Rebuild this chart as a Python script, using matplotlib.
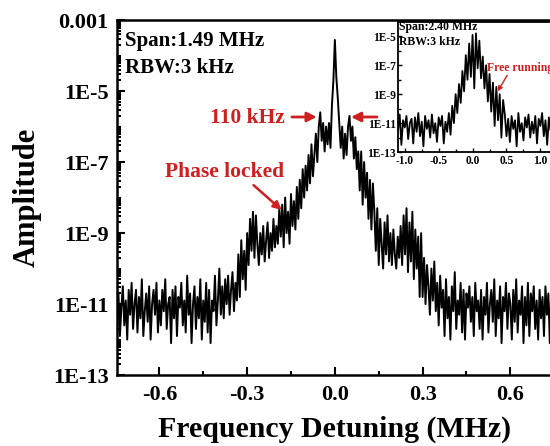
import numpy as np
import matplotlib.pyplot as plt
from matplotlib.ticker import FixedLocator, FuncFormatter, NullFormatter

plt.rcParams['font.family'] = ['Liberation Serif', 'DejaVu Serif']
plt.rcParams['font.weight'] = 'bold'

RED = '#cf1f1f'

# phase locked trace, log10 amplitude, 5 kHz steps from -0.745 to 0.745 MHz
span_start, span_stop = -0.745, 0.745
floor_left = [
    -11.5, -10.7, -11.9, -11.1, -10.5, -11.6, -10.9, -12.0, -10.6, -11.3,
    -10.4, -11.7, -11.0, -10.6, -11.8, -10.8, -11.4, -10.3, -11.9, -11.2,
    -10.7, -11.5, -10.5, -12.0, -11.0, -10.6, -11.3, -10.4, -11.8, -10.9,
    -11.6, -10.6, -11.2, -10.3, -11.7, -11.0, -10.8, -12.1, -10.6, -11.4,
    -10.5, -11.9, -10.8, -11.1, -10.4, -11.6, -10.9, -11.8, -10.2, -11.3,
    -10.7, -12.1, -11.0, -10.5, -11.7, -10.8, -11.4, -10.3, -12.0, -10.9,
    -11.5, -10.4, -11.8, -10.6, -12.1, -10.9, -11.2, -10.2, -11.6,
]
rise_left = [
    -10.9, -10.0, -11.3, -10.5, -11.4, -10.3, -11.0, -10.2, -11.3, -10.6,
    -10.1, -11.2, -10.4, -10.9,
    -9.6, -10.8, -9.2, -10.3, -9.5, -10.6,
    -9.0, -9.9, -8.6, -9.5, -8.4, -9.7, -8.5, -9.3,
    -9.9, -9.0, -9.6, -8.8, -9.8, -9.2, -8.7, -9.7, -9.0, -9.5,
    -8.6, -9.4, -8.8, -9.3, -8.3, -9.1,
    -8.2, -9.4, -8.0, -9.0, -8.4, -9.3, -7.9, -8.8, -8.1, -8.9, -7.7, -8.6,
    -7.5, -8.3, -7.2, -8.0, -7.1, -7.8, -6.8, -7.6, -6.5, -7.4,
]
peak = [
    -6.8, -6.2, -7.0, -6.0, -5.6, -6.4, -5.9, -6.7, -6.0, -6.5,
    -5.9, -6.6, -5.4, -4.7, -3.56, -4.6, -5.2, -5.9, -6.6, -6.0,
    -6.9, -6.2, -6.8, -6.0, -5.7, -6.4, -6.0, -6.9, -6.3, -7.2, -6.7,
]
fall_right = [
    -7.8, -6.7, -8.2, -7.0, -8.0, -7.3, -8.6, -7.5, -8.9, -7.6, -8.4,
    -9.5, -8.3, -9.9, -8.6, -9.3, -10.0, -8.7, -9.6, -8.5, -9.8,
    -9.0, -9.9, -8.9, -9.6, -10.0, -9.1, -9.7, -8.8,
    -9.9, -8.5, -9.6, -8.3, -10.1, -8.7, -9.8, -8.4, -10.3, -8.9, -10.0, -9.1, -10.8, -9.0,
    -10.8, -9.7, -11.0, -9.9, -10.5, -11.3, -10.0, -10.9, -9.8, -11.2,
    -10.4, -11.6, -10.2, -11.1, -10.6, -11.9, -10.3, -11.4, -10.8, -12.0, -10.5,
    -11.2, -10.1, -11.7, -10.9, -11.3, -10.4, -11.8, -10.6, -12.0, -10.7, -11.1,
]
floor_right = [
    -10.5, -11.5, -10.8, -11.9, -10.4, -11.2, -10.9, -11.7, -10.6, -12.0,
    -10.8, -11.3, -10.4, -11.8, -11.0, -10.6, -11.5, -10.3, -11.9, -10.9,
    -11.4, -10.5, -12.1, -10.8, -11.2, -10.4, -11.7, -10.7, -11.0, -12.0,
    -10.6, -11.5, -10.3, -11.8, -10.9, -11.3, -10.5, -12.1, -10.8, -11.6,
    -10.4, -11.9, -10.7, -11.2, -10.5, -11.7, -10.9, -12.0, -10.6, -11.4,
    -10.8, -11.9, -10.5, -11.3, -10.7, -12.1, -10.6, -11.8,
]

# free running trace (inset), 25 kHz steps from -1.2 to 1.2 MHz
inset_start, inset_stop = -1.2, 1.2
free_log = [
    -11.8, -10.6, -12.2, -10.9, -11.5, -10.4, -12.5, -10.8, -11.3, -10.5,
    -12.1, -11.0, -10.7, -12.4, -10.6, -11.6, -10.3, -11.9, -10.9, -12.6,
    -10.5, -11.4, -10.8, -12.0, -10.4, -11.7, -11.0, -12.3, -10.6, -11.2,
    -10.5, -12.4, -10.9, -11.6,
    -10.3, -11.8, -9.8, -11.0, -9.0, -10.3, -8.3, -9.6, -7.4, -8.8,
    -6.3, -8.0, -5.5, -7.8, -4.9, -8.6, -4.8, -7.2, -5.3,
    -7.9, -6.4, -8.6, -7.0, -9.5, -7.6, -10.2, -8.2, -11.2, -8.5, -10.8, -9.0, -12.0, -9.4,
    -10.4, -11.9, -10.7, -12.3, -10.5, -11.4, -10.8, -12.6, -10.3, -11.6,
    -11.0, -12.2, -10.6, -11.3, -10.4, -12.0, -10.9, -11.7, -10.5, -12.4,
    -10.7, -11.2, -10.3, -11.9, -10.8, -12.5, -10.6, -11.5, -10.9, -12.1,
]

main_xticks = [-0.6, -0.3, 0.0, 0.3, 0.6]
main_yticks = [1e-3, 1e-5, 1e-7, 1e-9, 1e-11, 1e-13]
inset_xticks = [-1.0, -0.5, 0.0, 0.5, 1.0]
inset_yticks = [1e-5, 1e-7, 1e-9, 1e-11, 1e-13]

locked_log = floor_left + rise_left + peak + fall_right + floor_right
freq = np.linspace(span_start, span_stop, len(locked_log))
amp = 10.0 ** np.array(locked_log)
freq_in = np.linspace(inset_start, inset_stop, len(free_log))
amp_in = 10.0 ** np.array(free_log)


def sci_label(v, pos):
    if abs(v - 1e-3) < 1e-12:
        return '0.001'
    return '1E%d' % int(round(np.log10(v)))


def minor_logs(lo, hi):
    return [m * 10.0 ** k for k in range(lo, hi) for m in range(2, 10)] + \
           [10.0 ** k for k in range(lo, hi) if k % 2 == 0]


fig = plt.figure(figsize=(5.5, 4.46), dpi=100)
ax = fig.add_axes([0.2127, 0.159, 0.7923, 0.796])
ax.plot(freq, amp, color='black', lw=1.4)
ax.set_yscale('log')
ax.set_xlim(span_start, span_stop)
ax.set_ylim(1e-13, 1e-3)
ax.xaxis.set_major_locator(FixedLocator(main_xticks))
ax.xaxis.set_minor_locator(FixedLocator([-0.45, -0.15, 0.15, 0.45]))
ax.yaxis.set_major_locator(FixedLocator(main_yticks))
ax.yaxis.set_minor_locator(FixedLocator(minor_logs(-13, -3)))
ax.yaxis.set_major_formatter(FuncFormatter(sci_label))
ax.yaxis.set_minor_formatter(NullFormatter())
ax.xaxis.set_major_formatter(FuncFormatter(lambda v, p: '%.1f' % v))
ax.tick_params(which='both', direction='in', width=1.5, labelsize=16)
ax.tick_params(which='major', length=6)
ax.tick_params(axis='y', which='major', pad=6)
ax.tick_params(axis='x', which='major', pad=7)
ax.tick_params(which='minor', length=3)
for s in ax.spines.values():
    s.set_linewidth(1.8)
ax.set_xlabel('Frequency Detuning (MHz)', fontsize=21.5, fontweight='bold', labelpad=8)
ax.set_ylabel('Amplitude', fontsize=22, fontweight='bold', labelpad=8)

ax.text(0.018, 0.941, 'Span:1.49 MHz', transform=ax.transAxes, fontsize=15,
        fontweight='bold', va='center')
ax.text(0.018, 0.865, 'RBW:3 kHz', transform=ax.transAxes, fontsize=15,
        fontweight='bold', va='center')

ax.text(-0.30, 10 ** -5.76, '110 kHz', color=RED, fontsize=15.5, fontweight='bold',
        ha='center', va='center')
arrow = dict(arrowstyle='-|>', color=RED, lw=2, mutation_scale=14, shrinkA=0, shrinkB=0)
ax.annotate('', xy=(-0.062, 10 ** -5.73), xytext=(-0.147, 10 ** -5.73), arrowprops=arrow)
ax.annotate('', xy=(0.055, 10 ** -5.73), xytext=(0.144, 10 ** -5.73), arrowprops=arrow)

ax.text(-0.377, 10 ** -7.28, 'Phase locked', color=RED, fontsize=15.5, fontweight='bold',
        ha='center', va='center')
ax.annotate('', xy=(-0.182, 10 ** -8.35), xytext=(-0.278, 10 ** -7.65),
            arrowprops=dict(arrowstyle='-|>', color=RED, lw=1.8, mutation_scale=12,
                            shrinkA=0, shrinkB=0))

# inset
axi = fig.add_axes([0.7236, 0.659, 0.2836, 0.292])
axi.plot(freq_in, amp_in, color='black', lw=1.3)
axi.set_yscale('log')
axi.set_xlim(-1.1, 1.2)
axi.set_ylim(1e-13, 1e-4)
axi.xaxis.set_major_locator(FixedLocator(inset_xticks))
axi.xaxis.set_minor_locator(FixedLocator([-0.75, -0.25, 0.25, 0.75]))
axi.yaxis.set_major_locator(FixedLocator(inset_yticks))
axi.yaxis.set_minor_locator(FixedLocator([10.0 ** k for k in range(-12, -4, 2)]))
axi.yaxis.set_major_formatter(FuncFormatter(sci_label))
axi.yaxis.set_minor_formatter(NullFormatter())
axi.xaxis.set_major_formatter(FuncFormatter(lambda v, p: '%.1f' % v))
axi.tick_params(which='both', direction='in', width=1.0, labelsize=8.3, pad=2)
axi.tick_params(axis='y', which='major', pad=1.5)
axi.tick_params(which='major', length=3)
axi.tick_params(which='minor', length=2)
for s in axi.spines.values():
    s.set_linewidth(1.3)
axi.text(-1.09, 10 ** -4.35, 'Span:2.40 MHz', fontsize=8.5, fontweight='bold', va='center')
axi.text(-1.09, 10 ** -5.4, 'RBW:3 kHz', fontsize=8.5, fontweight='bold', va='center')
axi.text(0.21, 10 ** -7.2, 'Free running', color=RED, fontsize=8.5, fontweight='bold',
         va='center', clip_on=False)
axi.annotate('', xy=(0.37, 10 ** -8.8), xytext=(0.51, 10 ** -7.7),
             arrowprops=dict(arrowstyle='-|>', color=RED, lw=1.0, mutation_scale=7,
                             shrinkA=0, shrinkB=0))

fig.savefig('out.png', dpi=100)
